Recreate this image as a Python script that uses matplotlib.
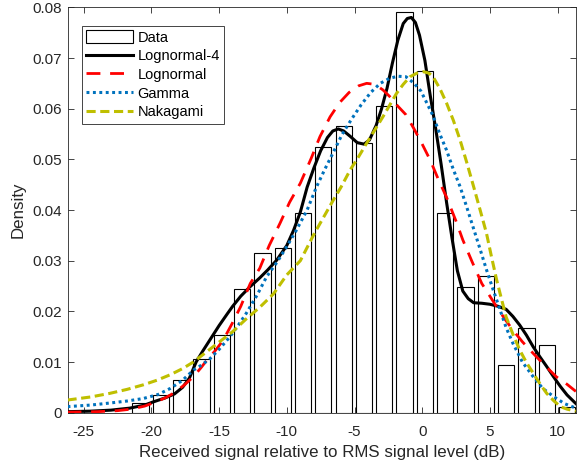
import matplotlib
matplotlib.use("Agg")
import matplotlib.pyplot as plt

plt.rcParams['font.family'] = ['Liberation Sans', 'DejaVu Sans']
plt.rcParams['axes.unicode_minus'] = False

# histogram of the measured data
bin_centers = [-20.8, -19.3, -17.8, -16.3, -14.8, -13.3, -11.8, -10.3, -8.8, -7.3, -5.8,
               -4.3, -2.8, -1.3, 0.2, 1.7, 3.2, 4.7, 6.2, 7.7, 9.2, 10.7]
density = [0.0019, 0.0035, 0.0065, 0.0105, 0.0153, 0.0245, 0.0316, 0.0326, 0.0394, 0.0525, 0.0566,
           0.0533, 0.0605, 0.0790, 0.0675, 0.0395, 0.0249, 0.0270, 0.0094, 0.0167, 0.0134, 0.0011]

# Lognormal-4 fit
ln4_x = [-26.2, -24.5, -23.0, -21.6, -20.5, -19.9, -19.0, -18.3, -17.7, -17.2, -16.7, -16.2,
         -15.6, -15.0, -14.4, -14.0, -13.4, -12.7, -12.0, -11.4, -10.75, -10.0, -9.5, -9.0,
         -8.5, -8.0, -7.5, -7.0, -6.6, -6.2, -5.8, -5.3, -4.8, -4.3, -3.9, -3.4, -3.0, -2.6,
         -2.2, -1.8, -1.4, -1.1, -0.8, -0.5, -0.2, 0.2, 0.6, 1.0, 1.4, 1.8, 2.2, 2.6, 3.0,
         3.4, 3.8, 4.4, 5.0, 5.6, 6.2, 6.7, 7.2, 7.7, 8.2, 8.7, 9.2, 9.7, 10.2, 10.7, 11.35]
ln4_y = [0.0002, 0.0003, 0.0005, 0.0009, 0.0015, 0.0021, 0.0029, 0.0037, 0.0050, 0.0068, 0.0100, 0.0122,
         0.0147, 0.0172, 0.0195, 0.0210, 0.0230, 0.0249, 0.0266, 0.0282, 0.0301, 0.0330, 0.0360, 0.0396,
         0.0445, 0.0483, 0.0517, 0.0543, 0.0556, 0.0560, 0.0556, 0.0545, 0.0533, 0.0530, 0.0538, 0.0567, 0.0600, 0.0640,
         0.0690, 0.0735, 0.0768, 0.0778, 0.0780, 0.0770, 0.0745, 0.0695, 0.0625, 0.0560, 0.0490, 0.0415, 0.0345, 0.0280, 0.0240,
         0.0225, 0.0217, 0.0216, 0.0214, 0.0210, 0.0204, 0.0190, 0.0173, 0.0153, 0.0130, 0.0110, 0.0091, 0.0071, 0.0052, 0.0035, 0.0018]

# Lognormal fit
ln_x = [-26.2, -24.0, -22.5, -21.5, -20.5, -19.9, -19.0, -18.4, -17.6, -16.9, -16.3, -15.9, -15.3,
        -14.7, -14.0, -13.4, -12.7, -12.0, -11.3, -10.5, -9.8, -9.0, -8.2, -7.55, -6.8, -6.1,
        -5.4, -4.7, -4.1, -3.5, -2.9, -2.4, -1.8, -1.2, -0.6, 0.0, 0.6, 1.2, 1.8, 2.5, 3.0,
        3.7, 4.4, 5.0, 5.5, 6.1, 6.7, 7.4, 8.2, 9.0, 9.9, 10.7, 11.35]
ln_y = [0.0001, 0.0002, 0.0004, 0.0007, 0.0013, 0.0019, 0.0029, 0.0038, 0.0054, 0.0071, 0.0090, 0.0104, 0.0122,
        0.0143, 0.0178, 0.0210, 0.0255, 0.0285, 0.0330, 0.0374, 0.0415, 0.0453, 0.0502, 0.0545, 0.0584, 0.0612,
        0.0632, 0.0645, 0.0650, 0.0648, 0.0637, 0.0624, 0.0605, 0.0588, 0.0560, 0.0530, 0.0498, 0.0460, 0.0425, 0.0378, 0.0341,
        0.0297, 0.0255, 0.0230, 0.0209, 0.0185, 0.0163, 0.0140, 0.0117, 0.0095, 0.0071, 0.0056, 0.0042]

# Gamma fit
gam_x = [-26.2, -24.5, -23.1, -21.8, -20.6, -19.5, -18.6, -17.7, -16.9, -16.3, -15.7, -15.0, -14.2,
         -13.6, -13.0, -12.2, -11.5, -10.7, -10.0, -9.3, -8.5, -7.8, -7.2, -6.6, -5.9, -5.2,
         -4.5, -3.8, -3.1, -2.4, -1.8, -1.2, -0.6, -0.1, 0.4, 0.8, 1.3, 1.8, 2.3, 2.8, 3.3,
         3.75, 4.25, 4.75, 5.25, 5.75, 6.2, 6.7, 7.4, 8.2, 8.9, 9.7, 10.5, 11.35]
gam_y = [0.0012, 0.0015, 0.0019, 0.0023, 0.0028, 0.0036, 0.0048, 0.0064, 0.0084, 0.0094, 0.0106, 0.0125, 0.0150,
         0.0172, 0.0196, 0.0232, 0.0268, 0.0298, 0.0328, 0.0360, 0.0400, 0.0446, 0.0480, 0.0512, 0.0550, 0.0580,
         0.0608, 0.0632, 0.0650, 0.0660, 0.0664, 0.0663, 0.0650, 0.0635, 0.0608, 0.0586, 0.0550, 0.0518, 0.0480, 0.0446, 0.0405,
         0.0367, 0.0325, 0.0282, 0.0242, 0.0203, 0.0168, 0.0137, 0.0100, 0.0071, 0.0048, 0.0032, 0.0018, 0.0009]

# Nakagami fit
nak_x = [-26.2, -24.5, -23.1, -21.8, -20.6, -19.6, -18.6, -17.7, -16.9, -15.45, -14.0, -13.0, -12.0,
         -11.0, -10.0, -9.0, -8.0, -7.3, -6.6, -6.0, -5.3, -4.7, -4.1, -3.5, -2.9, -2.4, -1.9,
         -1.4, -0.9, -0.4, 0.1, 0.5, 0.8, 1.3, 1.8, 2.3, 2.8, 3.3, 3.8, 4.3, 4.75, 5.1, 5.5,
         5.85, 6.2, 6.7, 7.2, 7.7, 8.2, 8.7, 9.2, 9.7, 10.2, 10.7, 11.35]
nak_y = [0.0025, 0.0031, 0.0038, 0.0046, 0.0055, 0.0064, 0.0075, 0.0087, 0.0100, 0.0130, 0.0160, 0.0185, 0.0208,
         0.0234, 0.0272, 0.0300, 0.0352, 0.0385, 0.0418, 0.0445, 0.0480, 0.0505, 0.0532, 0.0558, 0.0584, 0.0607, 0.0630,
         0.0648, 0.0663, 0.0670, 0.0673, 0.0670, 0.0663, 0.0640, 0.0611, 0.0577, 0.0538, 0.0493, 0.0446, 0.0398, 0.0354, 0.0310, 0.0262,
         0.0225, 0.0189, 0.0155, 0.0124, 0.0099, 0.0078, 0.0057, 0.0038, 0.0024, 0.0012, 0.0007, 0.0003]

x_ticks = [-25, -20, -15, -10, -5, 0, 5, 10]
y_ticks = [0, 0.01, 0.02, 0.03, 0.04, 0.05, 0.06, 0.07, 0.08]
y_tick_labels = ['0', '0.01', '0.02', '0.03', '0.04', '0.05', '0.06', '0.07', '0.08']

txt = '#262626'

fig = plt.figure(figsize=(5.77, 4.67), dpi=100)
ax = fig.add_axes([0.117, 0.1163, 0.881, 0.868])

bars = ax.bar(bin_centers, density, width=1.2, facecolor='white', edgecolor='black',
              linewidth=0.8, label='Data', zorder=1)
l1, = ax.plot(ln4_x, ln4_y, color='black', lw=2.2, label='Lognormal-4', zorder=3)
l2, = ax.plot(ln_x, ln_y, color='red', lw=2.0, dashes=(5, 3.5), label='Lognormal', zorder=3)
l3, = ax.plot(gam_x, gam_y, color='#0072BD', lw=2.2, dashes=(0.95, 1.15), label='Gamma', zorder=3)
l4, = ax.plot(nak_x, nak_y, color='#BFBF00', lw=2.2, dashes=(3.0, 1.5), label='Nakagami', zorder=3)

ax.set_xlim(-26.2, 11.35)
ax.set_ylim(0, 0.08)
ax.set_xticks(x_ticks)
ax.set_yticks(y_ticks)
ax.set_yticklabels(y_tick_labels)
ax.tick_params(direction='in', length=4, width=0.6, colors=txt, labelsize=11,
               top=True, right=True)
ax.tick_params(axis='x', pad=9)
ax.tick_params(axis='y', pad=4)
for s in ax.spines.values():
    s.set_color(txt)
    s.set_linewidth(0.6)

ax.set_xlabel('Received signal relative to RMS signal level (dB)', fontsize=12.2,
              color=txt, labelpad=4.5)
ax.set_ylabel('Density', fontsize=12.2, color=txt, labelpad=5)

leg = ax.legend(handles=[bars, l1, l2, l3, l4], loc='upper left',
                bbox_to_anchor=(0.0285, 0.954), borderaxespad=0,
                fontsize=10.5, fancybox=False, framealpha=1, edgecolor=txt,
                handlelength=3.2, handleheight=1.0, handletextpad=0.3,
                labelspacing=0.28, borderpad=0.3)
leg.get_frame().set_linewidth(0.6)

fig.savefig('out.png', dpi=100)
